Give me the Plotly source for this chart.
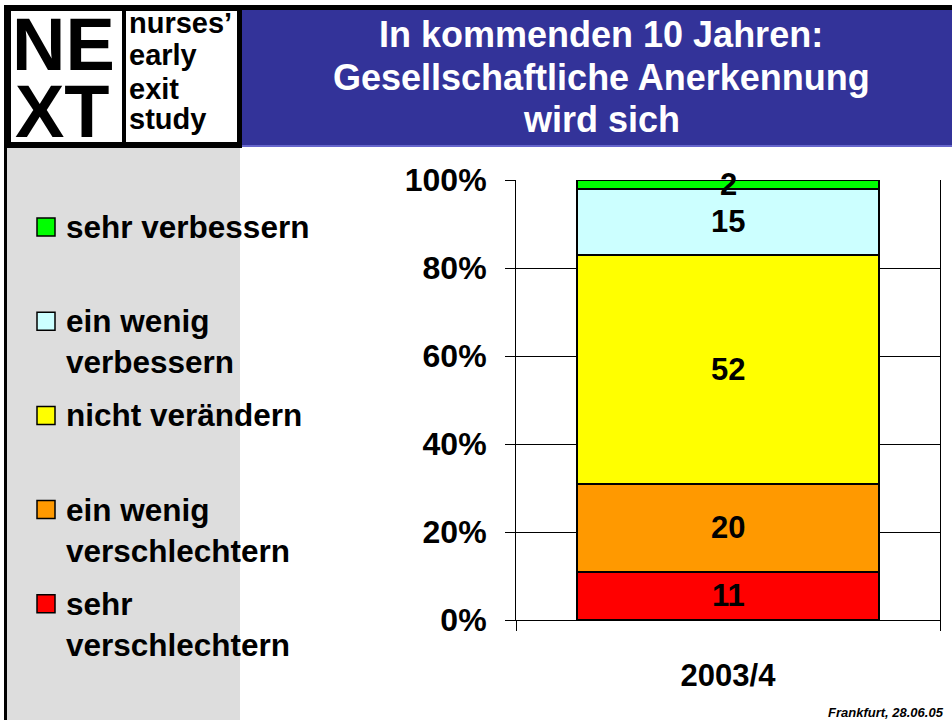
import plotly.graph_objects as go

# ---------------- data ----------------
year = ["2003/4"]
categories = ["sehr verschlechtern", "ein wenig verschlechtern", "nicht verändern",
              "ein wenig verbessern", "sehr verbessern"]
legend_labels = ["sehr<br>verschlechtern", "ein wenig<br>verschlechtern", "nicht verändern",
                 "ein wenig<br>verbessern", "sehr verbessern"]
values = [11, 20, 52, 15, 2]
colors = ["#FF0000", "#FF9900", "#FFFF00", "#CCFFFF", "#00FF00"]
y_ticks = [0, 20, 40, 60, 80, 100]
title_lines = ["In kommenden 10 Jahren:", "Gesellschaftliche Anerkennung", "wird sich"]
logo_big = ["NE", "XT"]
logo_small = ["nurses’", "early", "exit", "study"]
footer = "Frankfurt, 28.06.05"

# ---------------- geometry ----------------
FW, FH = 952, 720
L, R, T, B = 516, 940, 180, 620
W, H = R - L, B - T
FONT = "Arial, Liberation Sans, sans-serif"


def px(x):
    return (x - L) / W


def py(y):
    return (B - y) / H


fig = go.Figure()
for cat, val, col in zip(categories, values, colors):
    fig.add_trace(go.Bar(
        x=year, y=[val], name=cat,
        marker=dict(color=col, line=dict(color="#000000", width=2)),
        width=0.712, showlegend=False, hoverinfo="skip",
    ))

shapes = []
annotations = []

# header band + logo
shapes.append(dict(type="rect", xref="paper", yref="paper", x0=px(4), x1=px(FW), y0=py(5), y1=py(11),
                   fillcolor="#000000", line_width=0, layer="below"))
shapes.append(dict(type="rect", xref="paper", yref="paper", x0=px(241), x1=px(FW), y0=py(10), y1=py(146),
                   fillcolor="#333399", line_width=0, layer="below"))
shapes.append(dict(type="rect", xref="paper", yref="paper", x0=px(241), x1=px(FW), y0=py(145), y1=py(147),
                   fillcolor="#6666CC", line_width=0, layer="below"))
shapes.append(dict(type="rect", xref="paper", yref="paper", x0=px(4), x1=px(242), y0=py(5), y1=py(148),
                   fillcolor="#000000", line_width=0, layer="below"))
for x0, x1 in [(11, 122), (126, 237)]:
    shapes.append(dict(type="rect", xref="paper", yref="paper", x0=px(x0), x1=px(x1), y0=py(11), y1=py(142),
                       fillcolor="#FFFFFF", line_width=0, layer="below"))
# left grey panel + left border line
shapes.append(dict(type="rect", xref="paper", yref="paper", x0=px(7), x1=px(240), y0=py(148), y1=py(FH),
                   fillcolor="#DDDDDD", line_width=0, layer="below"))
shapes.append(dict(type="rect", xref="paper", yref="paper", x0=px(4), x1=px(7), y0=py(5), y1=py(FH),
                   fillcolor="#000000", line_width=0, layer="below"))

# logo text
for txt, (cx, cy) in zip(logo_big, [(63, 45), (62, 111)]):
    annotations.append(dict(text=txt, xref="paper", yref="paper", x=px(cx), y=py(cy), showarrow=False,
                            xanchor="center", yanchor="middle",
                            font=dict(family=FONT, size=74, color="#000000", weight="bold")))
for i, txt in enumerate(logo_small):
    cy = [23, 55, 89, 119][i]
    annotations.append(dict(text=txt, xref="paper", yref="paper", x=px(127), y=py(cy), showarrow=False,
                            xanchor="left", yanchor="middle",
                            font=dict(family=FONT, size=29, color="#000000", weight="bold")))

# title
for i, line in enumerate(title_lines):
    annotations.append(dict(text=line, xref="paper", yref="paper", x=px(601), y=py(35 + 42.5 * i),
                            showarrow=False, xanchor="center", yanchor="middle",
                            font=dict(family=FONT, size=36, color="#FFFFFF", weight="bold")))

# custom legend (top to bottom)
for k, idx in enumerate(reversed(range(len(categories)))):
    cy = 227 + 94.2 * k
    shapes.append(dict(type="rect", xref="paper", yref="paper", x0=px(37), x1=px(55), y0=py(cy - 9),
                       y1=py(cy + 9), fillcolor=colors[idx], line=dict(color="#000000", width=1.5)))
    nl = legend_labels[idx].count("<br>") + 1
    annotations.append(dict(text=legend_labels[idx], xref="paper", yref="paper", x=px(64),
                            y=py(cy + (nl - 1) * 20.5), showarrow=False, xanchor="left", yanchor="middle",
                            align="left",
                            font=dict(family=FONT, size=31.5, color="#000000", weight="bold")))

# value labels centred in each segment
cum = 0
for val in values:
    annotations.append(dict(text=str(val), x=year[0], y=cum + val / 2, xref="x", yref="y", showarrow=False,
                            xanchor="center", yanchor="middle",
                            font=dict(family=FONT, size=31, color="#000000", weight="bold")))
    cum += val

# footer
annotations.append(dict(text=f"<i>{footer}</i>", xref="paper", yref="paper", x=px(946), y=py(712),
                        showarrow=False, xanchor="right", yanchor="middle",
                        font=dict(family=FONT, size=13, color="#000000", weight="bold")))

fig.update_layout(
    barmode="stack",
    width=FW, height=FH,
    margin=dict(l=L, r=FW - R, t=T, b=FH - B, pad=0),
    paper_bgcolor="#FFFFFF", plot_bgcolor="#FFFFFF",
    shapes=shapes, annotations=annotations,
    bargap=0,
)
fig.update_yaxes(
    range=[0, 100], tickvals=y_ticks, ticktext=[f"{v}%" for v in y_ticks],
    showgrid=True, gridcolor="#000000", gridwidth=1,
    showline=True, linecolor="#000000", linewidth=1, mirror=True,
    ticks="outside", ticklen=10, tickcolor="#000000", tickwidth=1,
    ticklabelstandoff=12, zeroline=False,
    tickfont=dict(family=FONT, size=32, color="#000000", weight="bold"),
)
fig.update_xaxes(
    range=[-0.5, 0.5], showline=True, linecolor="#000000", linewidth=1,
    ticks="outside", ticklen=10, tickcolor="#000000", tickson="boundaries",
    ticklabelstandoff=28,
    tickfont=dict(family=FONT, size=31, color="#000000", weight="bold"),
)

fig.write_html("out.html", config={"displayModeBar": False},
               post_script="document.body.style.margin='0';document.body.style.overflow='hidden';")
